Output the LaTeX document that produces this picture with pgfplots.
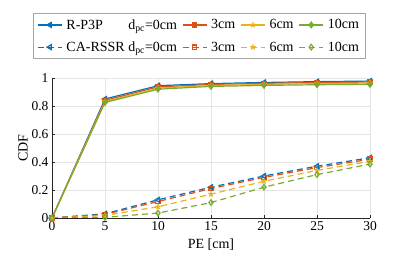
\documentclass[border=0pt]{standalone}
\usepackage{pgfplots}
\pgfplotsset{compat=1.18}
\usepackage{fontspec}
\setmainfont{Liberation Serif}
\definecolor{mb}{rgb}{0,0.447,0.741}
\definecolor{mo}{rgb}{0.85,0.325,0.098}
\definecolor{my}{rgb}{0.929,0.694,0.125}
\definecolor{mg}{rgb}{0.466,0.674,0.188}
\definecolor{axc}{rgb}{0.15,0.15,0.15}
\begin{document}
\begin{tikzpicture}
\useasboundingbox (-52pt,-38pt) rectangle (358pt,218pt);
\begin{axis}[
  at={(0,0)}, anchor=south west,
  width=318pt, height=140pt, scale only axis,
  xmin=0, xmax=30, ymin=0, ymax=1,
  xtick={0,5,...,30}, ytick={0,0.2,...,1},
  yticklabels={0,0.2,0.4,0.6,0.8,1},
  axis x line*=bottom, axis y line*=left,
  axis line style={axc, line width=0.5pt, -},
  tick style={axc}, tick align=inside,
  major tick length=3pt,
  grid=major, grid style={gray!20, line width=0.4pt},
  xlabel={PE [cm]}, ylabel={CDF},
  xlabel style={yshift=-1pt},
  ylabel style={yshift=-3pt},
  /pgf/number format/assume math mode=true,
  ticklabel style={font=\fontsize{13.5}{15}\selectfont},
  label style={font=\fontsize{14}{16}\selectfont},
  legend columns=4,
  legend style={at={(-0.06,1.464)}, anchor=north west, draw=gray!70, line width=0.6pt,
    font=\fontsize{14}{16}\selectfont, inner sep=4pt, row sep=7pt,
    /tikz/every odd column/.append style={column sep=2pt},
    /tikz/every even column/.append style={column sep=3pt}},
  legend cell align=left,
  legend image code/.code={\draw[mark repeat=2,mark phase=2,#1] plot coordinates {(0pt,0pt) (12pt,0pt) (24pt,0pt)};},
  every axis plot/.append style={line width=1.2pt, mark size=2.8pt},
]
\addplot[mb, mark=triangle*, mark options={rotate=90, solid}] coordinates {(0,0) (5,0.850) (10,0.945) (15,0.960) (20,0.968) (25,0.974) (30,0.978)};
\addplot[mo, mark=square*, mark size=2.2pt, mark options={solid}] coordinates {(0,0) (5,0.840) (10,0.936) (15,0.954) (20,0.962) (25,0.968) (30,0.971)};
\addplot[my, mark=star, mark options={solid}] coordinates {(0,0) (5,0.832) (10,0.928) (15,0.946) (20,0.954) (25,0.960) (30,0.964)};
\addplot[mg, mark=diamond*, mark options={solid}] coordinates {(0,0) (5,0.825) (10,0.920) (15,0.940) (20,0.947) (25,0.952) (30,0.955)};
\addplot[mb, dash pattern=on 6pt off 4pt, mark=triangle, mark options={rotate=90, solid}] coordinates {(0,0) (5,0.030) (10,0.130) (15,0.220) (20,0.300) (25,0.370) (30,0.430)};
\addplot[mo, dash pattern=on 6pt off 4pt, mark=square, mark size=2.2pt, mark options={solid}] coordinates {(0,0) (5,0.025) (10,0.118) (15,0.210) (20,0.290) (25,0.360) (30,0.420)};
\addplot[my, dash pattern=on 6pt off 4pt, mark=star, mark options={solid}] coordinates {(0,0) (5,0.018) (10,0.080) (15,0.170) (20,0.262) (25,0.340) (30,0.405)};
\addplot[mg, dash pattern=on 6pt off 4pt, mark=diamond, mark options={solid}] coordinates {(0,0) (5,0.005) (10,0.035) (15,0.110) (20,0.220) (25,0.310) (30,0.385)};
\legend{\rlap{R-P3P}\phantom{CA-RSSR} d$_{\mathrm{pc}}$=0cm, 3cm, 6cm, 10cm,
  CA-RSSR d$_{\mathrm{pc}}$=0cm, 3cm, 6cm, 10cm}
\end{axis}
\end{tikzpicture}
\end{document}
